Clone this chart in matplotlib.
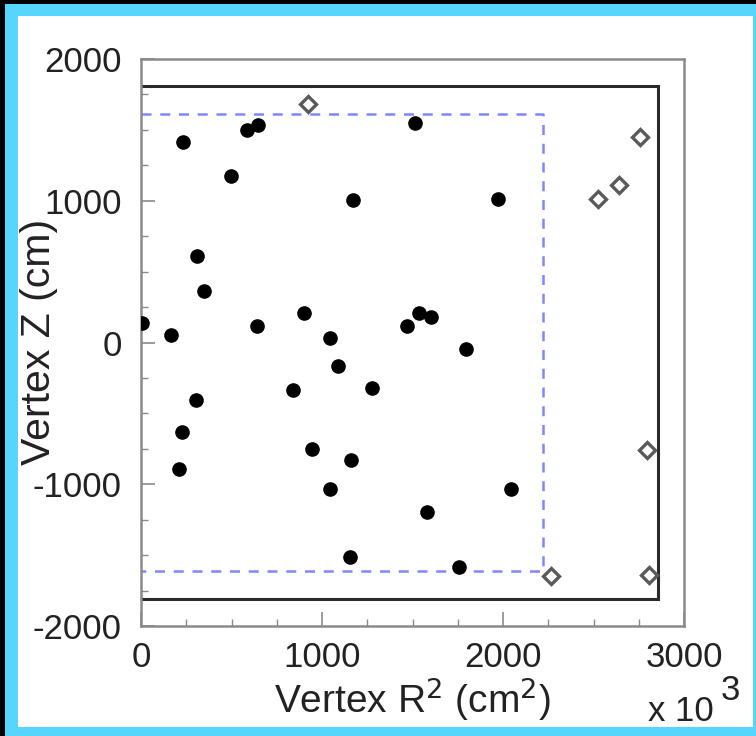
#!/usr/bin/env python3
"""
Vertex distribution of selected events: Z against R^2,
with the inner detector wall and fiducial volume outlined.
"""
import numpy as np
import matplotlib.pyplot as plt
from matplotlib.patches import Rectangle
from matplotlib.ticker import MultipleLocator

plt.rcParams['font.family'] = ['Liberation Sans', 'DejaVu Sans']
plt.rcParams['axes.unicode_minus'] = False

# events inside the selection (R^2 in units of 10^3 cm^2, Z in cm)
in_r2 = [5, 166, 230, 586, 648, 497, 1170, 309, 346, 639, 900, 1044, 1087,
         1512, 1972, 1536, 1604, 1471, 1794, 304, 228, 210, 842, 1278, 946,
         1160, 1044, 1155, 2043, 1580, 1757]
in_z = [138, 53, 1412, 1499, 1534, 1175, 1005, 610, 365, 116, 206, 30, -165,
        1551, 1012, 206, 182, 119, -48, -403, -631, -890, -333, -321, -751,
        -827, -1031, -1513, -1031, -1196, -1584]

# events rejected by the fiducial cut
out_r2 = [925, 2755, 2639, 2525, 2797, 2263, 2805]
out_z = [1683, 1452, 1111, 1012, -756, -1650, -1643]

# detector geometry
ID_R2, ID_HALF_Z = 2856, 1810     # inner detector wall
FV_R2, FV_HALF_Z = 2220, 1610     # fiducial volume

fig = plt.figure(figsize=(7.56, 7.36), dpi=100, facecolor='black')
W, H = 756, 736
fig.patches.append(Rectangle((5 / W, 0), 1, (H - 4) / H, transform=fig.transFigure,
                             facecolor='#56d6fe', edgecolor='none', zorder=-2))
fig.patches.append(Rectangle((18 / W, 9 / H), 735 / W, 711 / H, transform=fig.transFigure,
                             facecolor='white', edgecolor='none', zorder=-1))

ax = fig.add_axes([141 / W, 110 / H, 543 / W, 567 / H])
ax.set_facecolor('none')

# detector wall
ax.plot([0, ID_R2, ID_R2, 0], [ID_HALF_Z, ID_HALF_Z, -ID_HALF_Z, -ID_HALF_Z],
        color='#2a2a2a', lw=2.2, solid_joinstyle='miter')
# fiducial volume
ax.plot([0, FV_R2, FV_R2, 0], [FV_HALF_Z, FV_HALF_Z, -FV_HALF_Z, -FV_HALF_Z],
        color='#7f86ff', lw=1.8, dashes=(4, 3.5))

ax.plot(out_r2, out_z, 'D', ms=7.8, mfc='white', mec='#5a5a5a', mew=2.4, zorder=3)
ax.plot(in_r2, in_z, 'o', ms=9.5, color='black', mec='black', zorder=4)

ax.set_xlim(0, 3000)
ax.set_ylim(-2000, 2000)
ax.xaxis.set_major_locator(MultipleLocator(1000))
ax.xaxis.set_minor_locator(MultipleLocator(250))
ax.yaxis.set_major_locator(MultipleLocator(1000))
ax.yaxis.set_minor_locator(MultipleLocator(250))

for s in ax.spines.values():
    s.set_color('#8a8a8a')
    s.set_linewidth(1.8)

ax.tick_params(which='both', direction='in', color='#8a8a8a', top=False, right=False,
               labelsize=25, labelcolor='#222222')
ax.tick_params(axis='x', pad=11)
ax.tick_params(axis='y', pad=14)
ax.tick_params(which='major', length=10, width=1.2)
ax.tick_params(which='minor', length=5, width=1.0)

ax.set_xlabel('Vertex R$^2$ (cm$^2$)', fontsize=28, color='#222222')
ax.set_ylabel('Vertex Z (cm)', fontsize=29.5, color='#222222')
ax.xaxis.set_label_coords((412 - 141) / 543, (626 - 713) / 567)
ax.yaxis.set_label_coords((39 - 141) / 543, (626 - 342) / 567)
ax.xaxis.label.set_va('baseline')
ax.yaxis.label.set_va('center')

fig.text(648 / W, 1 - 721 / H, 'x 10', fontsize=25, color='#222222', ha='left', va='baseline')
fig.text(721 / W, 1 - 700 / H, '3', fontsize=25, color='#222222', ha='left', va='baseline')

fig.savefig('out.png', dpi=100, facecolor=fig.get_facecolor())
